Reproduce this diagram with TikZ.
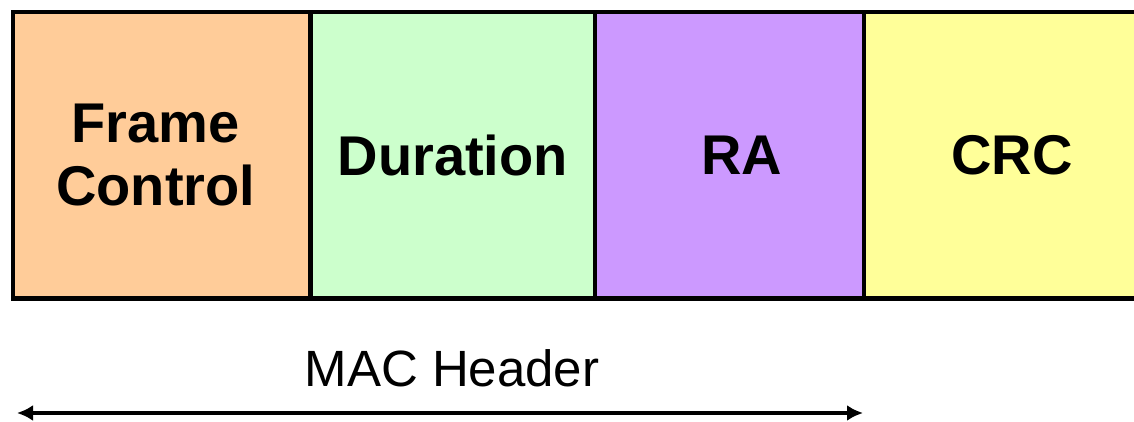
\documentclass[tikz,border=0pt]{standalone}
\usepackage{fontspec}
\setmainfont{Liberation Sans}
\usetikzlibrary{arrows.meta}

\definecolor{fcfill}{HTML}{FFCC99}
\definecolor{durfill}{HTML}{CCFFCC}
\definecolor{rafill}{HTML}{CC99FF}
\definecolor{crcfill}{HTML}{FFFF99}

\tikzset{
  field/.style={draw, line width=4.5pt, anchor=west, minimum height=286.5pt,
    inner sep=0pt, outer sep=0pt, align=center,
    font=\fontsize{56}{63}\selectfont\bfseries},
  span/.style={line width=4.5pt, {Latex[length=16pt,width=16pt]}-{Latex[length=16pt,width=16pt]}}
}

\begin{document}
\begin{tikzpicture}[x=1pt,y=1pt]

    \useasboundingbox (0,0) rectangle (1134,422);

    \node[field, fill=fcfill, minimum width=297.5pt] (fc) at (13,266.75) {Frame\hspace*{12pt}\\Control\hspace*{12pt}};
    \node[field, fill=durfill, minimum width=284.5pt] (dur) at (fc.east) {Duration};
    \node[field, fill=rafill, minimum width=269pt] (ra) at (dur.east) {\hspace*{24pt}RA};
    \node[field, fill=crcfill, minimum width=296pt] (crc) at (ra.east) {CRC};

    \node[anchor=base, font=\fontsize{51}{60}\selectfont] (hdr) at (452,35) {MAC Header};

    \coordinate (hl) at (17,9);
    \coordinate (hr) at (863,9);
    \draw[span] (hl) -- (hr);

\end{tikzpicture}
\end{document}
